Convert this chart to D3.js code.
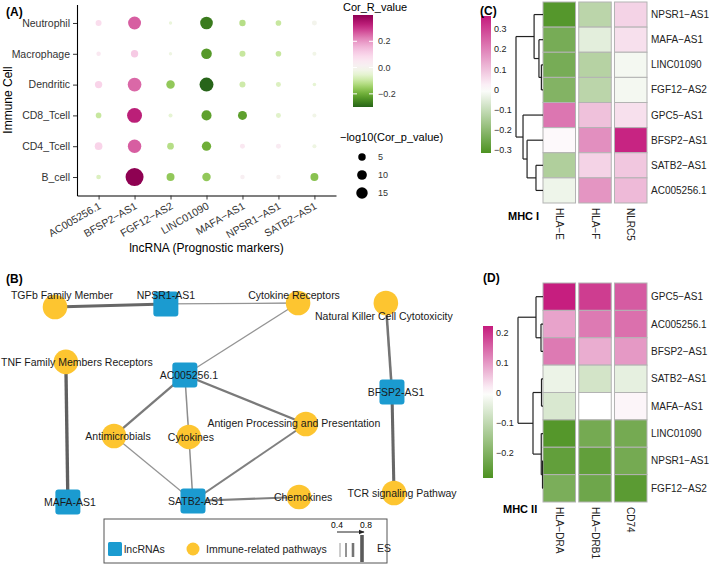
<!DOCTYPE html>
<html>
<head>
<meta charset="utf-8">
<script src="https://cdn.jsdelivr.net/npm/d3@7"></script>
<style>
  body { margin: 0; background: #fff; }
  text { font-family: "Liberation Sans", Arial, sans-serif; }
</style>
</head>
<body>
<svg id="fig" width="709" height="566"></svg>
<script>
////////////////////////////////////////////////////////////////////////////////////
// Data
// (A) dot plot: immune cells x prognostic lncRNAs
var cells = ["Neutrophil", "Macrophage", "Dendritic", "CD8_Tcell", "CD4_Tcell", "B_cell"];
var lncs = ["AC005256.1", "BFSP2-AS1", "FGF12-AS2", "LINC01090", "MAFA-AS1", "NPSR1-AS1", "SATB2-AS1"];
var corR = [
  [ 0.08, 0.26, -0.04, -0.27, -0.12, -0.10, -0.01],
  [ 0.05, 0.12, -0.03, -0.23, -0.10, -0.10, -0.02],
  [ 0.10, 0.25, -0.16, -0.30, -0.09, -0.07, -0.05],
  [-0.10, 0.33, -0.05, -0.22, -0.22, -0.06, -0.02],
  [ 0.10, 0.26, -0.12, -0.20,  0.05,  0.04, -0.03],
  [-0.07, 0.40, -0.16, -0.16,  0.02,  0.01, -0.17]
];
var corP = [ // -log10(p)
  [2.7, 20, 0.3, 19,   3.2, 2.2, 1.5],
  [1.0, 4.8, 0.3, 12.5, 2.7, 2.2, 0.7],
  [4.8, 23, 7,   24,   2.7, 1.5, 0.4],
  [2.2, 28, 0.7, 11,   8.2, 1.5, 0.7],
  [5.4, 22, 3.7, 9,    1.5, 1.5, 0.7],
  [1.2, 43, 6,   7,    1.0, 1.0, 6]
];
var sizeBreaks = [5, 10, 15];
var colorBreaksA = [0.2, 0, -0.2];

// (C) MHC I heatmap
var rowsC = ["NPSR1-AS1", "MAFA-AS1", "LINC01090", "FGF12-AS2", "GPC5-AS1", "BFSP2-AS1", "SATB2-AS1", "AC005256.1"];
var colsC = ["HLA-E", "HLA-F", "NLRC5"];
var valsC = [
  [-0.30, -0.12,  0.07],
  [-0.24, -0.05,  0.05],
  [-0.24, -0.13, -0.02],
  [-0.22, -0.12, -0.02],
  [ 0.22,  0.10,  0.05],
  [ 0.01,  0.18,  0.35],
  [-0.14,  0.07,  0.09],
  [-0.03,  0.17,  0.11]
];
var treeC = {h: 1, c: [
  {h: 0.33, c: ["NPSR1-AS1", {h: 0.15, c: ["MAFA-AS1", {h: 0.06, c: ["LINC01090", "FGF12-AS2"]}]}]},
  {h: 0.74, c: ["GPC5-AS1", {h: 0.59, c: ["BFSP2-AS1", {h: 0.26, c: ["SATB2-AS1", "AC005256.1"]}]}]}
]};
var ticksC = [0.3, 0.2, 0.1, 0, -0.1, -0.2, -0.3];
var limitsC = [-0.315, 0.365];

// (D) MHC II heatmap
var rowsD = ["GPC5-AS1", "AC005256.1", "BFSP2-AS1", "SATB2-AS1", "MAFA-AS1", "LINC01090", "NPSR1-AS1", "FGF12-AS2"];
var colsD = ["HLA-DRA", "HLA-DRB1", "CD74"];
var valsD = [
  [ 0.22,  0.19,  0.16],
  [ 0.09,  0.13,  0.14],
  [ 0.13,  0.08,  0.10],
  [-0.03, -0.07, -0.04],
  [-0.06,  0.00,  0.01],
  [-0.27, -0.22, -0.22],
  [-0.25, -0.25, -0.22],
  [-0.21, -0.23, -0.26]
];
var treeD = {h: 1, c: [
  {h: 0.28, c: ["GPC5-AS1", {h: 0.08, c: ["AC005256.1", "BFSP2-AS1"]}]},
  {h: 0.40, c: [{h: 0.06, c: ["SATB2-AS1", "MAFA-AS1"]},
                {h: 0.07, c: ["LINC01090", {h: 0.02, c: ["NPSR1-AS1", "FGF12-AS2"]}]}]}
]};
var ticksD = [0.2, 0.1, 0, -0.1, -0.2];
var limitsD = [-0.283, 0.223];

// (B) lncRNA / immune pathway network
var netNodes = [
  {id: "TGFb Family Member", type: "path"},
  {id: "NPSR1-AS1", type: "lnc"},
  {id: "Cytokine Receptors", type: "path"},
  {id: "Natural Killer Cell Cytotoxicity", type: "path"},
  {id: "TNF Family Members Receptors", type: "path"},
  {id: "AC005256.1", type: "lnc"},
  {id: "BFSP2-AS1", type: "lnc"},
  {id: "Antigen Processing and Presentation", type: "path"},
  {id: "Antimicrobials", type: "path"},
  {id: "Cytokines", type: "path"},
  {id: "MAFA-AS1", type: "lnc"},
  {id: "SATB2-AS1", type: "lnc"},
  {id: "Chemokines", type: "path"},
  {id: "TCR signaling Pathway", type: "path"}
];
var netEdges = [ // source, target, ES
  ["TGFb Family Member", "NPSR1-AS1", 0.80],
  ["NPSR1-AS1", "Cytokine Receptors", 0.45],
  ["AC005256.1", "Cytokine Receptors", 0.45],
  ["TNF Family Members Receptors", "MAFA-AS1", 0.85],
  ["AC005256.1", "Antimicrobials", 0.65],
  ["AC005256.1", "Cytokines", 0.50],
  ["AC005256.1", "Antigen Processing and Presentation", 0.65],
  ["Antimicrobials", "SATB2-AS1", 0.45],
  ["Cytokines", "SATB2-AS1", 0.50],
  ["SATB2-AS1", "Antigen Processing and Presentation", 0.60],
  ["SATB2-AS1", "Chemokines", 0.60],
  ["Natural Killer Cell Cytotoxicity", "BFSP2-AS1", 0.70],
  ["BFSP2-AS1", "TCR signaling Pathway", 0.80]
];
var esBreaks = [0.4, 0.55, 0.7, 0.9];

////////////////////////////////////////////////////////////////////////////////////
// Layout (network positions in layout units 0-100, label nudges in px)
var nodeLayout = {
  "TGFb Family Member": [0, 2, 7, -12],
  "NPSR1-AS1": [32.7, 0.5, 0, -9],
  "Cytokine Receptors": [71.7, 0, -4, -8],
  "Natural Killer Cell Cytotoxicity": [97.6, 0, -2, 13],
  "TNF Family Members Receptors": [3.2, 29.6, 11, 0],
  "AC005256.1": [38.3, 36.2, 4, 0],
  "BFSP2-AS1": [99.4, 44.7, 4, 0],
  "Antigen Processing and Presentation": [74, 60.8, -12, -1],
  "Antimicrobials": [17.4, 66.8, 4, 0],
  "Cytokines": [39.5, 67.3, 2, 0],
  "MAFA-AS1": [3.8, 100, 2, 0],
  "SATB2-AS1": [40.7, 99.5, 3, 0],
  "Chemokines": [72, 97.5, 4, 0],
  "TCR signaling Pathway": [100, 95.5, 8, 0]
};

var minus = function(s) { return s.replace(/-/g, "\u2212"); };
var svg = d3.select("#fig");
svg.append("rect").attr("width", 709).attr("height", 566).attr("fill", "#fff");

function panelTag(txt, x, y) {
  svg.append("text").attr("x", x).attr("y", y)
     .style("font-size", "12px").style("font-weight", "bold").text(txt);
}

////////////////////////////////////////////////////////////////////////////////////
// Panel A: dot plot
var gA = svg.append("g");
var xA = d3.scalePoint().domain(lncs).range([77, 336]).padding(0.6);
var yA = d3.scalePoint().domain(cells).range([4.5, 195.5]).padding(0.6);
var rA = function(v) { return 1 + 1.22 * Math.sqrt(v); };
var extR = d3.extent(d3.merge(corR));
var colA = d3.scaleDiverging(d3.interpolatePiYG).domain([extR[1], 0, extR[0]]);

var axL = gA.append("g").attr("transform", "translate(77,0)")
            .call(d3.axisLeft(yA).tickSize(4).tickSizeOuter(0));
var axB = gA.append("g").attr("transform", "translate(0,195.5)")
            .call(d3.axisBottom(xA).tickSize(4).tickSizeOuter(0).tickFormat(minus));
[axL, axB].forEach(function(ax) {
  ax.select(".domain").attr("stroke", "#000").attr("stroke-width", 1.1);
  ax.selectAll(".tick line").attr("stroke", "#333");
  ax.selectAll(".tick text").attr("fill", "#333").style("font-size", "10.5px")
    .style("font-family", "'Liberation Sans', Arial, sans-serif");
});
axB.selectAll(".tick text")
   .attr("x", 0).attr("y", 0).attr("dy", "0.71em")
   .attr("transform", "translate(-1,6) rotate(-30)")
   .style("text-anchor", "end");

cells.forEach(function(c, i) {
  lncs.forEach(function(l, j) {
    gA.append("circle")
      .attr("cx", xA(l)).attr("cy", yA(c))
      .attr("r", rA(corP[i][j]))
      .attr("fill", colA(corR[i][j]));
  });
});

gA.append("text").attr("transform", "translate(12,100) rotate(-90)")
  .attr("text-anchor", "middle").style("font-size", "12px").text("Immune Cell");
gA.append("text").attr("x", 206.5).attr("y", 252)
  .attr("text-anchor", "middle").style("font-size", "12px").text("lncRNA (Prognostic markers)");

// colour legend
var defs = svg.append("defs");
function gradient(id, scale, lo, hi) {
  var lg = defs.append("linearGradient").attr("id", id)
               .attr("x1", 0).attr("y1", 1).attr("x2", 0).attr("y2", 0);
  d3.range(0, 1.0001, 0.05).forEach(function(t) {
    lg.append("stop").attr("offset", t).attr("stop-color", scale(lo + t * (hi - lo)));
  });
}
var barA = d3.scaleLinear().domain(extR).range([107, 15]);
gradient("gradA", colA, extR[0], extR[1]);
gA.append("text").attr("x", 343).attr("y", 11).style("font-size", "11px").text("Cor_R_value");
gA.append("rect").attr("x", 353).attr("y", 15).attr("width", 20).attr("height", 92)
  .attr("fill", "url(#gradA)");
colorBreaksA.forEach(function(v) {
  gA.append("line").attr("x1", 353).attr("x2", 357).attr("y1", barA(v)).attr("y2", barA(v))
    .attr("stroke", "#fff");
  gA.append("line").attr("x1", 369).attr("x2", 373).attr("y1", barA(v)).attr("y2", barA(v))
    .attr("stroke", "#fff");
  gA.append("text").attr("x", 378).attr("y", barA(v)).attr("dy", "0.35em")
    .attr("fill", "#333").style("font-size", "9px").text(d3.format(".1f")(v));
});

// size legend
gA.append("text").attr("x", 340).attr("y", 141).style("font-size", "11px")
  .text("\u2212log10(Cor_p_value)");
sizeBreaks.forEach(function(v, i) {
  var yy = 157 + i * 18;
  gA.append("circle").attr("cx", 362).attr("cy", yy).attr("r", rA(v)).attr("fill", "#000");
  gA.append("text").attr("x", 378).attr("y", yy).attr("dy", "0.35em")
    .attr("fill", "#333").style("font-size", "9px").text(v);
});
panelTag("(A)", 6, 16);

////////////////////////////////////////////////////////////////////////////////////
// Panels C and D: clustered heatmaps
function drawHeat(cfg) {
  var g = svg.append("g");
  var x = d3.scaleBand().domain(cfg.cols).range(cfg.xr).paddingInner(0.09);
  var y = d3.scaleBand().domain(cfg.rows).range(cfg.yr);
  var col = d3.scaleLinear().domain([cfg.lim[0], 0, cfg.lim[1]])
              .range(["#4d9221", "#ffffff", "#c51b7d"]);

  cfg.rows.forEach(function(r, i) {
    cfg.cols.forEach(function(c, j) {
      g.append("rect").attr("x", x(c)).attr("y", y(r))
       .attr("width", x.bandwidth()).attr("height", y.bandwidth())
       .attr("fill", col(cfg.vals[i][j]))
       .attr("stroke", "#b3b3b3").attr("stroke-width", 1);
    });
    g.append("text").attr("x", cfg.xr[1] + 4).attr("y", y(r) + y.bandwidth() / 2)
     .attr("dy", "0.35em").attr("fill", "#222").style("font-size", "10px").text(minus(r));
  });
  cfg.cols.forEach(function(c) {
    g.append("text")
     .attr("transform", "translate(" + (x(c) + x.bandwidth() / 2) + "," + (cfg.yr[1] + 5) + ") rotate(90)")
     .attr("dy", "0.35em").attr("fill", "#222").style("font-size", "10px").text(minus(c));
  });

  // dendrogram
  var hx = d3.scaleLinear().domain([0, 1]).range([cfg.xr[0], cfg.rootX]);
  var root = d3.hierarchy(cfg.tree, function(d) { return d.c; });
  root.eachAfter(function(n) {
    if (!n.children) {
      n.px = cfg.xr[0];
      n.py = y(n.data) + y.bandwidth() / 2;
    } else {
      n.px = hx(n.data.h);
      n.py = d3.mean(n.children, function(k) { return k.py; });
    }
  });
  root.each(function(n) {
    if (!n.children) return;
    var ys = n.children.map(function(k) { return k.py; });
    g.append("line").attr("x1", n.px).attr("x2", n.px)
     .attr("y1", d3.min(ys)).attr("y2", d3.max(ys))
     .attr("stroke", "#222").attr("stroke-width", 1.2);
    n.children.forEach(function(k) {
      g.append("line").attr("x1", n.px).attr("x2", k.px).attr("y1", k.py).attr("y2", k.py)
       .attr("stroke", "#222").attr("stroke-width", 1.2);
    });
  });

  // colour bar
  var by = d3.scaleLinear().domain(cfg.lim).range([cfg.bar[3], cfg.bar[1]]);
  gradient(cfg.id, col, cfg.lim[0], cfg.lim[1]);
  g.append("rect").attr("x", cfg.bar[0]).attr("y", cfg.bar[1])
   .attr("width", cfg.bar[2]).attr("height", cfg.bar[3] - cfg.bar[1])
   .attr("fill", "url(#" + cfg.id + ")");
  cfg.ticks.forEach(function(v) {
    g.append("text").attr("x", cfg.bar[0] + cfg.bar[2] + 3).attr("y", by(v))
     .attr("dy", "0.35em").attr("fill", "#222").style("font-size", "9px")
     .text(v === 0 ? "0" : d3.format(".1f")(v));
  });

  g.append("text").attr("x", cfg.title[1]).attr("y", cfg.title[2])
   .style("font-size", "11px").style("font-weight", "bold").text(cfg.title[0]);
}

drawHeat({id: "gradC", rows: rowsC, cols: colsC, vals: valsC, tree: treeC, lim: limitsC,
          ticks: ticksC, xr: [543, 647], yr: [2, 203], rootX: 516,
          bar: [481, 16, 10, 153], title: ["MHC I", 508, 220]});
drawHeat({id: "gradD", rows: rowsD, cols: colsD, vals: valsD, tree: treeD, lim: limitsD,
          ticks: ticksD, xr: [543, 647], yr: [283, 502], rootX: 518,
          bar: [483, 326, 10, 478], title: ["MHC II", 503, 513]});
panelTag("(C)", 480, 15);
panelTag("(D)", 483, 282);

////////////////////////////////////////////////////////////////////////////////////
// Panel B: network
var gB = svg.append("g");
var xB = d3.scaleLinear().domain([0, 100]).range([55, 394]);
var yB = d3.scaleLinear().domain([0, 100]).range([303, 502]);
var wES = d3.scaleLinear().domain([0.4, 0.9]).range([1, 3.6]);
var cES = d3.scaleLinear().domain([0.4, 0.9]).range(["#9a9a9a", "#5a5a5a"]);
var pos = function(id) { return [xB(nodeLayout[id][0]), yB(nodeLayout[id][1])]; };
var lncBlue = "#1b9bd0", pathYellow = "#fdc530";

netEdges.forEach(function(e) {
  var a = pos(e[0]), b = pos(e[1]);
  gB.append("line").attr("x1", a[0]).attr("y1", a[1]).attr("x2", b[0]).attr("y2", b[1])
    .attr("stroke", cES(e[2])).attr("stroke-width", wES(e[2]));
});
netNodes.forEach(function(n) {
  var p = pos(n.id);
  if (n.type === "lnc") {
    gB.append("rect").attr("x", p[0] - 12.5).attr("y", p[1] - 12.5)
      .attr("width", 25).attr("height", 25).attr("rx", 3).attr("fill", lncBlue);
  } else {
    gB.append("circle").attr("cx", p[0]).attr("cy", p[1]).attr("r", 12.3).attr("fill", pathYellow);
  }
});
netNodes.forEach(function(n) {
  var p = pos(n.id), L = nodeLayout[n.id];
  gB.append("text").attr("x", p[0] + L[2]).attr("y", p[1] + L[3]).attr("dy", "0.35em")
    .attr("text-anchor", "middle").attr("fill", "#1a1a1a").style("font-size", "10.5px").text(n.id);
});

// legend
gB.append("rect").attr("x", 104).attr("y", 519).attr("width", 283).attr("height", 44)
  .attr("fill", "none").attr("stroke", "#555").attr("stroke-width", 1);
gB.append("rect").attr("x", 108).attr("y", 542).attr("width", 14).attr("height", 14)
  .attr("rx", 1.5).attr("fill", lncBlue);
gB.append("text").attr("x", 124).attr("y", 549).attr("dy", "0.35em")
  .style("font-size", "10.5px").attr("fill", "#222").text("lncRNAs");
gB.append("circle").attr("cx", 193).attr("cy", 549).attr("r", 6.5).attr("fill", pathYellow);
gB.append("text").attr("x", 206).attr("y", 549).attr("dy", "0.35em")
  .style("font-size", "10.5px").attr("fill", "#222").text("Immune-related pathways");
esBreaks.forEach(function(v, i) {
  var lx = [340, 346, 353, 362][i];
  var tall = i === esBreaks.length - 1;
  gB.append("line").attr("x1", lx).attr("x2", lx)
    .attr("y1", tall ? 535 : 543).attr("y2", tall ? 562 : 557)
    .attr("stroke", cES(v)).attr("stroke-width", wES(v));
});
defs.append("marker").attr("id", "arr").attr("viewBox", "0 0 10 10").attr("refX", 9).attr("refY", 5)
    .attr("markerWidth", 6).attr("markerHeight", 6).attr("orient", "auto")
    .append("path").attr("d", "M0,1L10,5L0,9Z").attr("fill", "#222");
gB.append("line").attr("x1", 337).attr("x2", 364).attr("y1", 532).attr("y2", 532)
  .attr("stroke", "#222").attr("stroke-width", 1).attr("marker-end", "url(#arr)");
gB.append("text").attr("x", 337).attr("y", 528).attr("text-anchor", "middle")
  .style("font-size", "8.5px").text("0.4");
gB.append("text").attr("x", 366).attr("y", 528).attr("text-anchor", "middle")
  .style("font-size", "8.5px").text("0.8");
gB.append("text").attr("x", 377).attr("y", 548).attr("dy", "0.35em")
  .style("font-size", "10.5px").attr("fill", "#222").text("ES");
panelTag("(B)", 6, 283);
</script>
</body>
</html>
